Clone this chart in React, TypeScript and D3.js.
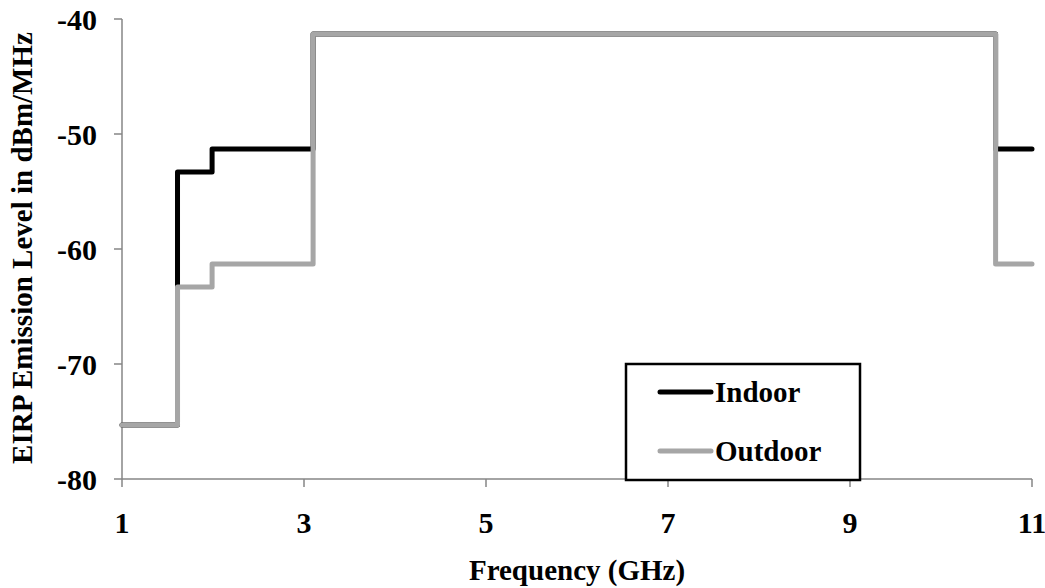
import React from 'react';
import * as d3 from 'd3';

// breakpoints of the emission masks (GHz) and the level that starts at each one
const freqs = [1, 1.61, 1.99, 3.1, 10.6, 11];
const indoor = [-75.3, -53.3, -51.3, -41.3, -51.3, -51.3];
const outdoor = [-75.3, -63.3, -61.3, -41.3, -61.3, -61.3];
const xTicks = [1, 3, 5, 7, 9, 11];
const yTicks = [-40, -50, -60, -70, -80];

const W = 1045;
const H = 588;
const FONT = '"Liberation Serif", "Times New Roman", serif';

const App = () => {
  const x = d3.scaleLinear().domain([1, 11]).range([122, 1032]);
  const y = d3.scaleLinear().domain([-80, -40]).range([479, 19]);

  const line = d3
    .line<number>()
    .x((_, i) => x(freqs[i]))
    .y((d) => y(d))
    .curve(d3.curveStepAfter);

  const series = [
    { name: 'Indoor', values: indoor, color: '#000000' },
    { name: 'Outdoor', values: outdoor, color: '#a6a6a6' },
  ];
  const axisColor = '#868686';

  return (
    <svg width={W} height={H} style={{ position: 'absolute', left: 0, top: 0 }} fontFamily={FONT}>
      <rect width={W} height={H} fill="#fff" />

      {/* axes */}
      <line x1={x(1)} x2={x(11)} y1={y(-80)} y2={y(-80)} stroke={axisColor} strokeWidth={1.5} />
      <line x1={x(1)} x2={x(1)} y1={y(-40)} y2={y(-80)} stroke={axisColor} strokeWidth={1.5} />
      {yTicks.map((t) => (
        <g key={t}>
          <line x1={x(1) - 8} x2={x(1)} y1={y(t)} y2={y(t)} stroke={axisColor} strokeWidth={1.5} />
          <text x={x(1) - 25} y={y(t)} dy="0.35em" textAnchor="end" fontSize={30} fontWeight="bold">
            {t}
          </text>
        </g>
      ))}
      {xTicks.map((t) => (
        <g key={t}>
          <line x1={x(t)} x2={x(t)} y1={y(-80)} y2={y(-80) + 8} stroke={axisColor} strokeWidth={1.5} />
          <text x={x(t)} y={533} textAnchor="middle" fontSize={30} fontWeight="bold">
            {t}
          </text>
        </g>
      ))}

      <text x={577} y={580} textAnchor="middle" fontSize={29} fontWeight="bold">
        Frequency (GHz)
      </text>
      <text
        transform="translate(32,248) rotate(-90)"
        textAnchor="middle"
        fontSize={29}
        fontWeight="bold"
      >
        EIRP Emission Level in dBm/MHz
      </text>

      {/* mask lines */}
      {series.map((s) => (
        <path
          key={s.name}
          d={line(s.values) || ''}
          fill="none"
          stroke={s.color}
          strokeWidth={5}
          strokeLinejoin="round"
          strokeLinecap="round"
        />
      ))}

      {/* legend */}
      <rect x={626} y={364} width={234} height={116} fill="#fff" stroke="#000" strokeWidth={2.5} />
      {series.map((s, i) => {
        const ly = 392 + i * 59;
        return (
          <g key={s.name}>
            <line x1={660} x2={711} y1={ly} y2={ly} stroke={s.color} strokeWidth={5} strokeLinecap="round" />
            <text x={715} y={ly} dy="0.35em" fontSize={29} fontWeight="bold">
              {s.name}
            </text>
          </g>
        );
      })}
    </svg>
  );
};

export default App;
